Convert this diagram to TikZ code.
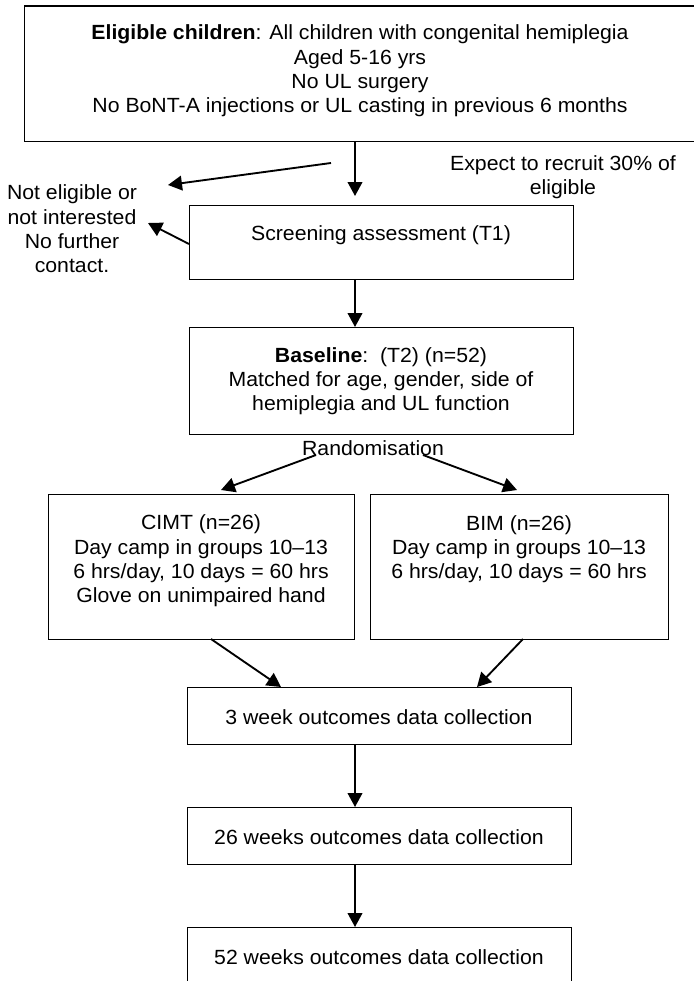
\documentclass[tikz,border=0pt]{standalone}
\usepackage{fontspec}
\setmainfont{Liberation Sans}[FakeStretch=1.035]
\usetikzlibrary{arrows.meta}
\begin{document}
\begin{tikzpicture}[x=0.75pt,y=-0.75pt,
  box/.style={draw=black, line width=1pt, inner sep=0pt, anchor=north west},
  bw/.style={minimum width=#1*0.75pt},
  bh/.style={minimum height=#1*0.75pt},
  txt/.style={align=center, font=\fontsize{15.4}{18.2}\selectfont, inner sep=0pt},
  arr/.style={line width=1.4pt, -{Triangle[length=10.5pt,width=11pt]}}]
\useasboundingbox (0,0) rectangle (693,981);

% boxes
\node[box, bw=672, bh=135] (top) at (24,5.5) {};
\node[box, bw=384, bh=74]  (scr) at (189,205) {};
\node[box, bw=384, bh=107] (base) at (189,327) {};
\node[box, bw=306, bh=145] (cimt) at (48,494) {};
\node[box, bw=298, bh=145] (bim) at (370,494) {};
\node[box, bw=384, bh=57]  (w3) at (187,687) {};
\node[box, bw=384, bh=57]  (w26) at (187,807) {};
\node[box, bw=384, bh=57]  (w52) at (187,927) {};

% texts
\node[txt] (toptxt) at (360,71) {\textbf{Eligible children}: All children with congenital hemiplegia\\Aged 5-16 yrs\\No UL surgery\\No BoNT-A injections or UL casting in previous 6 months};
\node[txt] (expect) at (563,177) {Expect to recruit 30\% of\\eligible};
\node[txt] (noel) at (72,229) {Not eligible or\\not interested\\No further\\contact.};
\node[txt] (scrtxt) at (381,235) {Screening assessment (T1)};
\node[txt] (basetxt) at (381,381) {\textbf{Baseline}:\ \ (T2) (n=52)\\Matched for age, gender, side of\\hemiplegia and UL function};
\node[txt] (rand) at (373,448) {Randomisation};
\node[txt] (cimttxt) at (201,561) {CIMT (n=26)\\Day camp in groups 10--13\\6 hrs/day, 10 days = 60 hrs\\Glove on unimpaired hand};
\node[txt] (bimtxt) at (519,549) {BIM (n=26)\\Day camp in groups 10--13\\6 hrs/day, 10 days = 60 hrs};
\node[txt] (w3txt) at (379,717) {3 week outcomes data collection};
\node[txt] (w26txt) at (379,837) {26 weeks outcomes data collection};
\node[txt] (w52txt) at (379,957) {52 weeks outcomes data collection};

% free ends
\coordinate (t1) at (355,196);
\coordinate (e1) at (331,163);
\coordinate (e2) at (168,185);
\coordinate (s1) at (148,223);
\coordinate (r1s) at (316,455);
\coordinate (r1e) at (221,490);
\coordinate (r2s) at (423,455);
\coordinate (r2e) at (517,490);
\coordinate (c1) at (211,639);
\coordinate (c2) at (281,687);
\coordinate (b1) at (523,639);
\coordinate (b2) at (477,687);

% connectors
\draw[arr] (top.south -| t1) -- (t1);
\draw[arr] (e1) -- (e2);
\draw[arr] (scr.west |- 0,244) -- (s1);
\draw[arr] (scr.south -| t1) -- (base.north -| t1);
\draw[arr] (r1s) -- (r1e);
\draw[arr] (r2s) -- (r2e);
\draw[arr] (c1) -- (c2);
\draw[arr] (b1) -- (b2);
\draw[arr] (w3.south -| t1) -- (w26.north -| t1);
\draw[arr] (w26.south -| t1) -- (w52.north -| t1);
\end{tikzpicture}
\end{document}
